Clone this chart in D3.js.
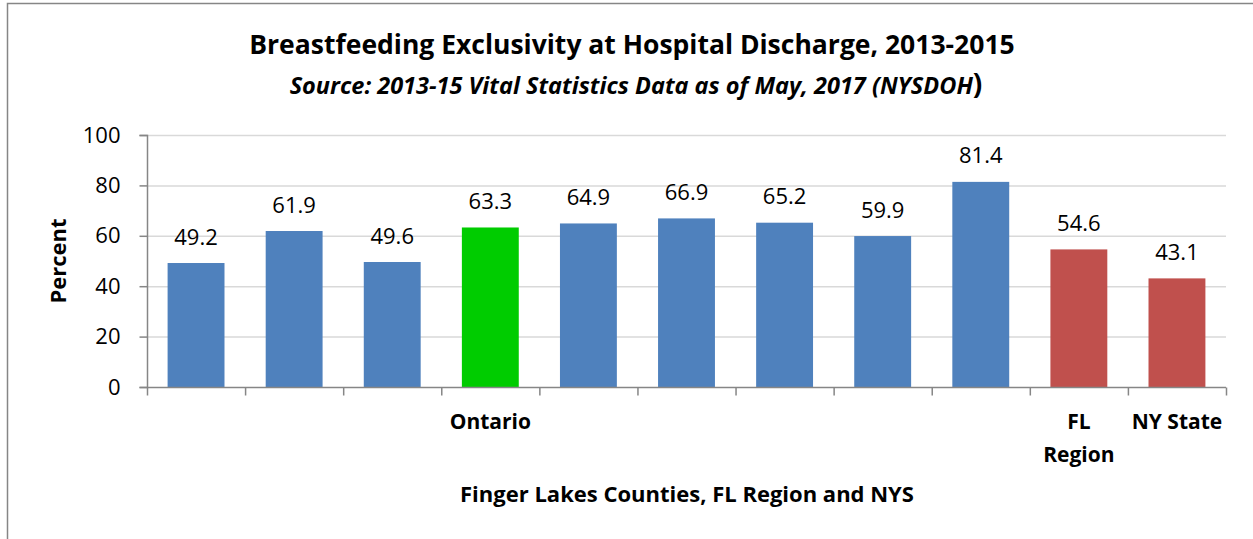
<!DOCTYPE html>
<html><head><meta charset="utf-8">
<script src="https://cdn.jsdelivr.net/npm/d3@7"></script>
<style>body{margin:0;background:#fff;}svg{display:block;font-family:"Open Sans",sans-serif;}</style>
</head><body>
<svg id="c" width="1253" height="539"></svg>
<script>
const categories = ["c1","c2","c3","Ontario","c5","c6","c7","c8","c9","FL Region","NY State"];
const tickLabels = ["","","","Ontario","","","","","","FL|Region","NY State"];
const values = [49.2,61.9,49.6,63.3,64.9,66.9,65.2,59.9,81.4,54.6,43.1];
const groups = ["county","county","county","ontario","county","county","county","county","county","region","region"];
const yTicks = [0,20,40,60,80,100];
const colorMap = {county:"#4F81BD", ontario:"#00CC00", region:"#C0504D"};

const svg = d3.select("#c");
svg.append("rect").attr("x",7.5).attr("y",3.5).attr("width",1260).attr("height",560)
  .attr("fill","none").attr("stroke","#868686").attr("stroke-width",1.5);

const cats = categories.map((c,i)=>i);
const x = d3.scaleBand().domain(cats).range([147,1226]).paddingInner(0.42).paddingOuter(0.21);
const xb = d3.scaleBand().domain(cats).range([147,1226]);
const y = d3.scaleLinear().domain([0,100]).range([387,135]);

svg.append("g").selectAll("line").data(yTicks.filter(d=>d>0)).join("line")
  .attr("x1",147).attr("x2",1226).attr("y1",d=>y(d)+0.5).attr("y2",d=>y(d)+0.5)
  .attr("stroke","#D9D9D9").attr("stroke-width",1.5);

svg.append("g").selectAll("rect").data(values).join("rect")
  .attr("x",(d,i)=>x(i)).attr("width",x.bandwidth())
  .attr("y",d=>y(d)).attr("height",d=>y(0)-y(d))
  .attr("fill",(d,i)=>colorMap[groups[i]]);

const yAxis = d3.axisLeft(y).tickValues(yTicks).tickSize(8).tickPadding(19).tickFormat(d3.format("d"));
const gy = svg.append("g").attr("transform","translate(147.5,0)").call(yAxis);
gy.select(".domain").attr("stroke","#868686").attr("stroke-width",1.5).attr("d","M-8,135.5H0V387.5H-8");
gy.selectAll(".tick line").attr("stroke","#868686").attr("stroke-width",1.5);
gy.selectAll(".tick text").attr("font-size",22).attr("fill","#000").attr("font-family","'Open Sans',sans-serif");

const gx = svg.append("g").attr("transform","translate(0,387.5)");
gx.append("line").attr("x1",147).attr("x2",1226).attr("stroke","#868686").attr("stroke-width",1.5);
const bounds = cats.map(i=>xb(i)).concat([1226]);
gx.selectAll("line.t").data(bounds).join("line").attr("class","t")
  .attr("x1",d=>d+0.5).attr("x2",d=>d+0.5).attr("y1",0).attr("y2",8)
  .attr("stroke","#868686").attr("stroke-width",1.5);
const tl = svg.append("g").selectAll("text").data(tickLabels).join("text")
  .attr("x",(d,i)=>xb(i)+xb.bandwidth()/2).attr("y",429)
  .attr("text-anchor","middle").attr("font-size",21).attr("font-weight","bold");
tl.each(function(d){
  const parts = d.split("|");
  const t = d3.select(this);
  parts.forEach((p,k)=>t.append("tspan").attr("x",t.attr("x")).attr("dy",k===0?0:33).text(p));
});

svg.append("g").selectAll("text").data(values).join("text")
  .attr("x",(d,i)=>xb(i)+xb.bandwidth()/2).attr("y",d=>y(d)-18.5)
  .attr("text-anchor","middle").attr("font-size",22).text(d=>d3.format(".1f")(d));

svg.append("text").attr("x",632).attr("y",54).attr("text-anchor","middle")
  .attr("font-size",26.5).attr("font-weight","bold").text("Breastfeeding Exclusivity at Hospital Discharge, 2013-2015");
const sub = svg.append("text").attr("x",636).attr("y",94).attr("text-anchor","middle")
  .attr("font-size",23.5).attr("font-weight","bold");
sub.append("tspan").attr("font-style","italic").text("Source: 2013-15 Vital Statistics Data as of May, 2017 (NYSDOH");
sub.append("tspan").attr("font-size",28).text(")");

svg.append("text").attr("transform","translate(66,261) rotate(-90)").attr("text-anchor","middle")
  .attr("font-size",22).attr("font-weight","bold").text("Percent");
svg.append("text").attr("x",687).attr("y",502).attr("text-anchor","middle")
  .attr("font-size",22).attr("font-weight","bold").text("Finger Lakes Counties, FL Region and NYS");
</script>
</body></html>
